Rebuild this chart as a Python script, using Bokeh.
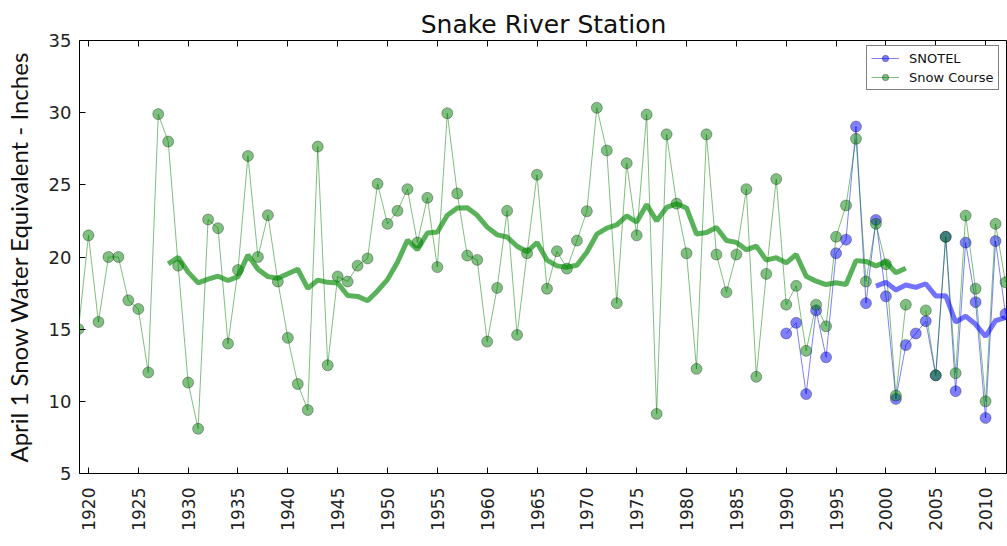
import math
import numpy as np
import pandas as pd
from bokeh.plotting import figure
from bokeh.models import (Range1d, LinearAxis, SingleIntervalTicker, Legend, LegendItem,
                          ColumnDataSource, CustomJSTickFormatter)
from bokeh.embed import file_html
from bokeh.resources import INLINE

# ---- data ----
course_years = list(range(1919, 2013))
course_swe = [
    15.0, 21.5, 15.5, 20.0, 20.0, 17.0, 16.4, 12.0, 29.9, 28.0,      # 1919-1928
    19.4, 11.3, 8.1, 22.6, 22.0, 14.0, 19.1, 27.0, 20.0, 22.9,       # 1929-1938
    18.3, 14.4, 11.2, 9.4, 27.65, 12.5, 18.65, 18.3, 19.4, 19.9,     # 1939-1948
    25.07, 22.3, 23.2, 24.7, 21.0, 24.1, 19.3, 29.96, 24.4, 20.1,    # 1949-1958
    19.8, 14.14, 17.86, 23.2, 14.6, 20.26, 25.7, 17.8, 20.4, 19.2,   # 1959-1968
    21.14, 23.17, 30.34, 27.38, 16.8, 26.5, 21.5, 29.87, 9.13, 28.5, # 1969-1978
    23.7, 20.26, 12.25, 28.5, 20.17, 17.56, 20.17, 24.7, 11.7, 18.83,# 1979-1988
    25.4, 16.7, 18.0, 13.5, 16.7, 15.2, 21.4, 23.57, 28.19, 18.3,    # 1989-1998
    22.3, 19.5, 10.4, 16.7, None, 16.3, 11.8, 21.4, 11.95, 22.87,    # 1999-2008
    17.8, 10.0, 22.3, 18.25,                                         # 2009-2012
]
snotel_years = list(range(1990, 2013))
snotel_swe = [
    14.7, 15.44, 10.5, 16.3, 13.05, 20.26, 21.2, 29.04, 16.8, 22.57,
    17.28, 10.17, 13.9, 14.7, 15.55, 11.8, 21.4, 10.7, 21.0, 16.87,
    8.85, 21.1, 16.06,
]
x_ticks_interval = 5
y_ticks_interval = 5

course = pd.Series([np.nan if v is None else v for v in course_swe], index=course_years, dtype=float)
snotel = pd.Series(snotel_swe, index=snotel_years, dtype=float)
course_ma = course.rolling(10).mean()
snotel_ma = snotel.rolling(10).mean()

src_c = ColumnDataSource(dict(x=course_years, y=course.values, ma=course_ma.values))
src_s = ColumnDataSource(dict(x=snotel_years, y=snotel.values, ma=snotel_ma.values))

p = figure(width=1007, height=546, x_range=Range1d(1919.1, 2012.2), y_range=Range1d(5, 35),
           output_backend="svg", toolbar_location=None,
           min_border_left=76, min_border_right=0, min_border_top=40, min_border_bottom=73,
           title="Snake River Station")
p.background_fill_color = "white"
p.border_fill_color = "white"
p.xgrid.visible = False
p.ygrid.visible = False
p.outline_line_color = "black"
p.outline_line_width = 1

p.title.align = "center"
p.title.text_font = "DejaVu Sans"
p.title.text_font_size = "25px"
p.title.text_font_style = "normal"
p.title.text_color = "#111111"
p.title.standoff = 4

xt = SingleIntervalTicker(interval=x_ticks_interval, num_minor_ticks=0)
yt = SingleIntervalTicker(interval=y_ticks_interval, num_minor_ticks=0)
p.xaxis.ticker = xt
p.yaxis.ticker = yt
for ax in (p.xaxis[0], p.yaxis[0]):
    ax.axis_line_color = None
    ax.major_tick_in = 6
    ax.major_tick_out = 0
    ax.major_tick_line_color = "black"
    ax.minor_tick_line_color = None
    ax.major_label_text_font = "DejaVu Sans"
    ax.major_label_text_color = "#222222"

p.xaxis.major_label_orientation = math.pi / 2
p.xaxis.major_label_text_font_size = "17px"
p.xaxis.major_label_standoff = 14
p.yaxis.major_label_text_font_size = "18px"
p.yaxis.major_label_standoff = 8
p.yaxis.axis_label = "April 1 Snow Water Equivalent - Inches"
p.yaxis.axis_label_text_font = "Lato"
p.yaxis.axis_label_text_font_size = "24px"
p.yaxis.axis_label_text_font_style = "normal"
p.yaxis.axis_label_text_color = "#111111"
p.yaxis.axis_label_standoff = 13

top = LinearAxis(ticker=SingleIntervalTicker(interval=x_ticks_interval, num_minor_ticks=0),
                 axis_line_color=None, major_tick_in=6, major_tick_out=0,
                 minor_tick_line_color=None,
                 formatter=CustomJSTickFormatter(code="return ''"),
                 major_label_standoff=0)
p.add_layout(top, "above")

# SNOTEL
s_line = p.line("x", "y", source=src_s, line_color="#0000ff", line_alpha=0.5, line_width=1)
s_pts = p.scatter("x", "y", source=src_s, size=11, fill_color="#0000ff", fill_alpha=0.5,
                  line_color="black", line_alpha=0.3)
# Snow Course
c_line = p.line("x", "y", source=src_c, line_color="#008000", line_alpha=0.5, line_width=1)
c_pts = p.scatter("x", "y", source=src_c, size=11, fill_color="#008000", fill_alpha=0.5,
                  line_color="black", line_alpha=0.3)
# 10-year trailing means
p.line("x", "ma", source=src_c, line_color="#008800", line_alpha=0.65, line_width=5)
p.line("x", "ma", source=src_s, line_color="#0000ff", line_alpha=0.55, line_width=5)

legend = Legend(items=[LegendItem(label="SNOTEL", renderers=[s_line, s_pts]),
                       LegendItem(label="Snow Course", renderers=[c_line, c_pts])],
                location=(787, 383))
legend.border_line_color = "black"
legend.border_line_width = 1
legend.background_fill_color = "white"
legend.background_fill_alpha = 1
legend.label_text_font = "DejaVu Sans"
legend.label_text_font_size = "13px"
legend.label_text_color = "#111111"
legend.glyph_width = 28
legend.glyph_height = 16
legend.label_height = 16
legend.label_standoff = 10
legend.spacing = 3
legend.padding = 4
legend.margin = 0
p.add_layout(legend)

open("out.html", "w").write(file_html(p, INLINE))
